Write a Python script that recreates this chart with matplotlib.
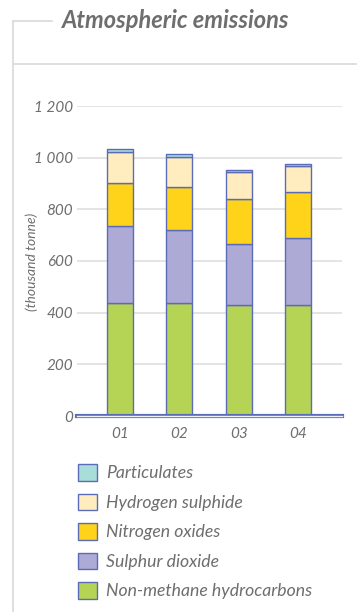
import matplotlib.pyplot as plt
from matplotlib.lines import Line2D
import numpy as np

# -----------------------------
# Data (thousand tonne)
# -----------------------------
years = ["01", "02", "03", "04"]
hydrocarbons = [436, 436, 428, 430]
sulphur_dioxide = [299, 284, 238, 259]
nitrogen_oxides = [166, 165, 173, 178]
hydrogen_sulphide = [120, 119, 104, 99]
particulates = [13, 9, 9, 10]

series_names = ["Non-methane hydrocarbons", "Sulphur dioxide", "Nitrogen oxides",
                "Hydrogen sulphide", "Particulates"]
series_colors = ["#b5d354", "#aeaad6", "#ffd31a", "#ffedbf", "#a9ddd9"]
y_ticks = [0, 200, 400, 600, 800, 1000, 1200]

EDGE = "#5a6cb8"
TEXT = "#6e6e6e"
FRAME = "#dcdcdc"

plt.rcParams['font.family'] = ['Lato', 'DejaVu Sans']

W, H = 357, 612
fig = plt.figure(figsize=(W / 100, H / 100), dpi=100)


def px(x, y):
    # pixel position -> figure fraction
    return x / W, 1 - y / H


# -----------------------------
# Panel frame and title
# -----------------------------
fig.add_artist(Line2D([13 / W, 13 / W], [0, 1 - 20.5 / H], color=FRAME, lw=1.3))
fig.add_artist(Line2D([13 / W, 52 / W], [1 - 20.5 / H] * 2, color=FRAME, lw=1.3))
fig.add_artist(Line2D([13 / W, 1], [1 - 64 / H] * 2, color=FRAME, lw=1.3))
fig.text(*px(62, 21), "Atmospheric emissions", fontsize=17, fontweight="bold",
         fontstyle="italic", color=TEXT, ha="left", va="center")

# -----------------------------
# Stacked bars
# -----------------------------
left, right, top, bottom = 77, 342, 106, 416
ax = fig.add_axes([left / W, 1 - bottom / H, (right - left) / W, (bottom - top) / H])

x = np.arange(len(years))
data = [hydrocarbons, sulphur_dioxide, nitrogen_oxides, hydrogen_sulphide, particulates]
base = np.zeros(len(years))
handles = []
for vals, name, col in zip(data, series_names, series_colors):
    bars = ax.bar(x, vals, width=0.44, bottom=base, color=col, edgecolor=EDGE,
                  linewidth=1.0, label=name, zorder=2)
    handles.append(bars)
    base = base + np.array(vals)

ax.set_xlim(-0.72, 3.74)
ax.set_ylim(0, 1200)
ax.set_yticks(y_ticks)
ax.set_yticklabels([f"{v:,}".replace(",", " ") for v in y_ticks])
ax.set_xticks(x)
ax.set_xticklabels(years)
ax.tick_params(length=0, labelsize=11, labelcolor=TEXT)
ax.tick_params(axis="y", pad=3)
ax.tick_params(axis="x", pad=8)
for lab in ax.get_xticklabels() + ax.get_yticklabels():
    lab.set_fontstyle("italic")
for s in ax.spines.values():
    s.set_visible(False)
ax.yaxis.grid(True, color="#e2e2e2", lw=1.3, zorder=0)
ax.set_axisbelow(True)

# double-line baseline
ax.axhline(0, color=EDGE, lw=3.0, zorder=3, clip_on=False)
ax.axhline(0, color="#eef0fa", lw=1.0, zorder=4, clip_on=False)

fig.text(*px(32, 262), "(thousand tonne)", rotation=90, fontsize=10,
         fontstyle="italic", color=TEXT, ha="center", va="center")

# -----------------------------
# Legend
# -----------------------------
leg = fig.legend(handles[::-1], series_names[::-1], loc="upper left",
                 bbox_to_anchor=px(78, 464), frameon=False, fontsize=12.7,
                 handlelength=1.08, handleheight=1.08, handletextpad=0.5,
                 labelspacing=0.69, borderpad=0, borderaxespad=0)
for t in leg.get_texts():
    t.set_fontstyle("italic")
    t.set_color(TEXT)

fig.savefig("out.png", dpi=100)
